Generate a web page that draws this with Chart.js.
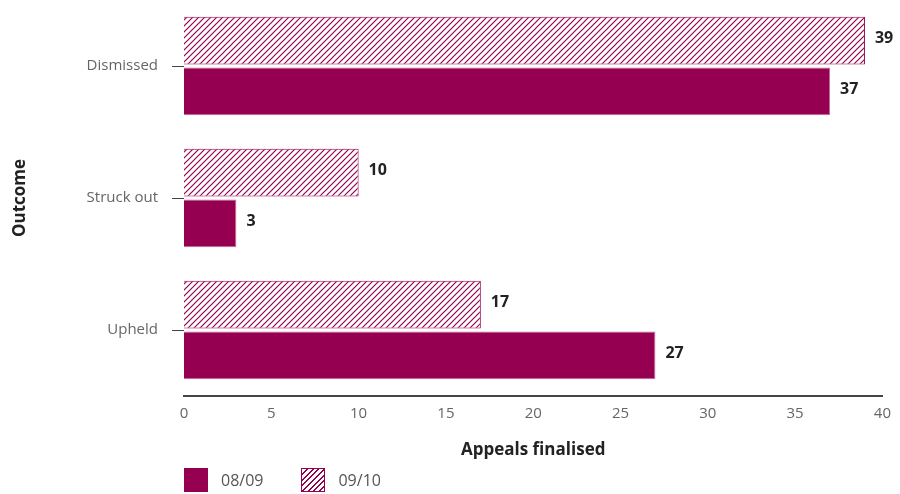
<!DOCTYPE html>
<html>
<head>
<meta charset="utf-8">
<script src="https://cdn.jsdelivr.net/npm/chart.js@4"></script>
<style>
  html, body { margin: 0; padding: 0; background: #fff; }
  #wrap { position: relative; width: 900px; height: 494px; }
  #legend { position: absolute; left: 184px; top: 468px; font-family: "Open Sans", sans-serif; font-size: 16px; color: #555; display: flex; align-items: center; }
  .sw { display: inline-block; width: 24px; height: 24px; box-sizing: border-box; margin-right: 13px; }
  .solid { background: #960050; }
  .hatch { border: 1px solid #960050; background: repeating-linear-gradient(-45deg, #fff 0 2.5px, #960050 2.5px 4px); }
  .item { display: flex; align-items: center; margin-right: 38px; }
</style>
</head>
<body>
<div id="wrap">
  <canvas id="chart" width="900" height="494"></canvas>
  <div id="legend">
    <span class="item"><span class="sw solid"></span>08/09</span>
    <span class="item"><span class="sw hatch"></span>09/10</span>
  </div>
</div>
<script>
// Data
const categories = ['Dismissed', 'Struck out', 'Upheld'];
const values0910 = [39, 10, 17];
const values0809 = [37, 3, 27];
const xTicks = [0, 5, 10, 15, 20, 25, 30, 35, 40];

const plum = '#960050';

// Diagonal hatch pattern for 09/10
function makeHatch() {
  const c = document.createElement('canvas');
  c.width = 6; c.height = 6;
  const g = c.getContext('2d');
  g.fillStyle = '#fff';
  g.fillRect(0, 0, 6, 6);
  g.strokeStyle = plum;
  g.lineWidth = 1.2;
  g.beginPath();
  g.moveTo(0, 6); g.lineTo(6, 0);
  g.moveTo(-1, 1); g.lineTo(1, -1);
  g.moveTo(5, 7); g.lineTo(7, 5);
  g.stroke();
  return g.createPattern(c, 'repeat');
}

// Value labels at the end of each bar
const valueLabels = {
  id: 'valueLabels',
  afterDatasetsDraw(chart) {
    const ctx = chart.ctx;
    ctx.save();
    ctx.font = 'bold 16px "Open Sans", sans-serif';
    ctx.fillStyle = '#222';
    ctx.textBaseline = 'middle';
    ctx.textAlign = 'left';
    chart.data.datasets.forEach((ds, i) => {
      chart.getDatasetMeta(i).data.forEach((bar, j) => {
        ctx.fillText(ds.data[j], bar.x + 10, bar.y - 2);
      });
    });
    ctx.restore();
  }
};

new Chart(document.getElementById('chart'), {
  type: 'bar',
  data: {
    labels: categories,
    datasets: [
      {
        label: '09/10',
        data: values0910,
        backgroundColor: makeHatch(),
        borderColor: plum,
        borderWidth: 1,
        barPercentage: 0.94,
        categoryPercentage: 0.77
      },
      {
        label: '08/09',
        data: values0809,
        backgroundColor: plum,
        borderColor: '#c06a98',
        borderWidth: 1,
        barPercentage: 0.94,
        categoryPercentage: 0.77
      }
    ]
  },
  options: {
    indexAxis: 'y',
    responsive: false,
    animation: false,
    layout: { padding: { left: 10, right: 14, top: -3, bottom: 34 } },
    scales: {
      x: {
        min: 0,
        max: 40,
        afterBuildTicks: (scale) => { scale.ticks = xTicks.map(v => ({ value: v })); },
        grid: { display: false, drawTicks: false },
        border: { display: true, color: '#444', width: 2 },
        ticks: { color: '#666', font: { family: 'Open Sans', size: 15 }, padding: 9 },
        title: { display: true, text: 'Appeals finalised', color: '#222', font: { family: 'Open Sans', size: 17, weight: 'bold' }, padding: { top: 14, bottom: 0 } },
        afterFit: (scale) => { scale.height = 64; }
      },
      y: {
        grid: { display: true, drawOnChartArea: false, offset: false, tickLength: 12, color: '#444', lineWidth: 1 },
        border: { display: false },
        ticks: { color: '#666', font: { family: 'Open Sans', size: 15 }, padding: 14 },
        title: { display: true, text: 'Outcome', color: '#222', font: { family: 'Open Sans', size: 17, weight: 'bold' }, padding: 0 },
        afterFit: (scale) => { scale.width = 174; scale.paddingTop = 0; scale.paddingBottom = 0; }
      }
    },
    plugins: {
      legend: { display: false },
      tooltip: { enabled: false }
    }
  },
  plugins: [valueLabels]
});
</script>
</body>
</html>
